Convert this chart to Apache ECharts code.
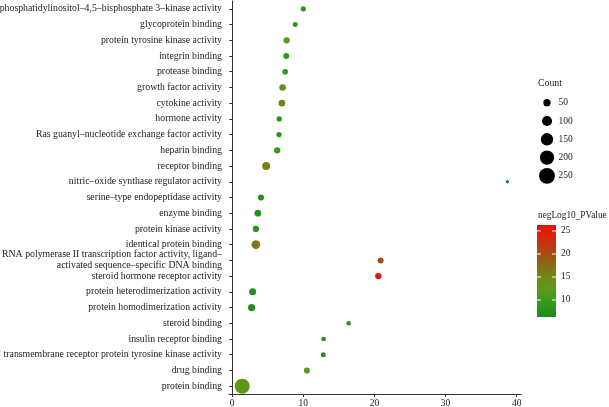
<!DOCTYPE html>
<html>
<head>
<meta charset="utf-8">
<script src="https://cdn.jsdelivr.net/npm/echarts@6/dist/echarts.min.js"></script>
<style>html,body{margin:0;padding:0;background:#fff;}#c{width:609px;height:407px;}</style>
</head>
<body>
<div id="c"></div>
<script>
const categories = [
  'phosphatidylinositol–4,5–bisphosphate 3–kinase activity',
  'glycoprotein binding',
  'protein tyrosine kinase activity',
  'integrin binding',
  'protease binding',
  'growth factor activity',
  'cytokine activity',
  'hormone activity',
  'Ras guanyl–nucleotide exchange factor activity',
  'heparin binding',
  'receptor binding',
  'nitric–oxide synthase regulator activity',
  'serine–type endopeptidase activity',
  'enzyme binding',
  'protein kinase activity',
  'identical protein binding',
  'RNA polymerase II transcription factor activity, ligand–\nactivated sequence–specific DNA binding',
  'steroid hormone receptor activity',
  'protein heterodimerization activity',
  'protein homodimerization activity',
  'steroid binding',
  'insulin receptor binding',
  'transmembrane receptor protein tyrosine kinase activity',
  'drug binding',
  'protein binding'
];
const xValues = [10.0, 8.86, 7.65, 7.6, 7.45, 7.09, 6.99, 6.61, 6.57, 6.33, 4.78, 38.68, 4.04, 3.61, 3.33, 3.33, 20.87, 20.54, 2.87, 2.73, 16.37, 12.85, 12.8, 10.5, 1.41];
const counts = [25, 22, 37, 33, 29, 41, 41, 25, 25, 37, 61, 8, 33, 42, 37, 72, 33, 37, 46, 50, 19, 19, 22, 33, 222];
const negLog10P = [8.5, 8, 12.5, 8.5, 9, 14, 16, 8, 8, 10, 16, 6.3, 7.5, 7.5, 8, 16.5, 20, 26.3, 7.5, 7.5, 8, 7.5, 7.5, 12, 12.5];
const xTicks = [0, 10, 20, 30, 40];
const sizeBreaks = [50, 100, 150, 200, 250];
const colorBreaks = [10, 15, 20, 25];

const FONT = 'Liberation Serif';
const TXT = '#222';

const rampStops = [[0,'#1e8a1e'],[0.185,'#3c9a1c'],[0.31,'#5c9a18'],[0.435,'#728a14'],[0.56,'#866c16'],[0.685,'#a24e14'],[0.81,'#c83210'],[0.935,'#e21c0c'],[1,'#e8120a']];
function hex(h){return [parseInt(h.slice(1,3),16),parseInt(h.slice(3,5),16),parseInt(h.slice(5,7),16)];}
function rampAt(t){
  for(let i=1;i<rampStops.length;i++){
    if(t<=rampStops[i][0]){
      const a=rampStops[i-1],b=rampStops[i];const u=(t-a[0])/(b[0]-a[0]);
      const ca=hex(a[1]),cb=hex(b[1]);
      return 'rgb('+ca.map((v,k)=>Math.round(v+(cb[k]-v)*u)).join(',')+')';
    }
  }
  return rampStops[rampStops.length-1][1];
}
const rampColors=[];
for(let i=0;i<=40;i++){rampColors.push(rampAt(i/40));}

const cMin=Math.min(...negLog10P), cMax=Math.max(...negLog10P);
const sizeOf = c => Math.sqrt(c + 3);

const chart = echarts.init(document.getElementById('c'), null, {renderer:'canvas'});

const lgX = 538;
const graphics = [];
graphics.push({type:'text', x: lgX, y: 83, style:{text:'Count', font:'9.8px '+FONT, fill:TXT, verticalAlign:'middle'}});
sizeBreaks.forEach((b,k)=>{
  const cy = 102.7 + k*18.3;
  graphics.push({type:'circle', shape:{cx:547, cy:cy, r:sizeOf(b)/2}, style:{fill:'#000'}});
  graphics.push({type:'text', x:558.5, y:cy, style:{text:String(b), font:'9.5px '+FONT, fill:TXT, verticalAlign:'middle', align:'left'}});
});
graphics.push({type:'text', x: lgX, y: 216, style:{text:'negLog10_PValue', font:'9.3px '+FONT, fill:TXT, verticalAlign:'middle'}});
const barTop=225, barH=92, barX=537, barW=19;
graphics.push({type:'rect', shape:{x:barX, y:barTop, width:barW, height:barH},
  style:{fill: new echarts.graphic.LinearGradient(0,1,0,0, rampColors.map((c,i)=>({offset:i/(rampColors.length-1), color:c})))}});
colorBreaks.forEach(b=>{
  const y = barTop + barH - (b-cMin)/(cMax-cMin)*barH;
  graphics.push({type:'line', shape:{x1:barX, y1:y, x2:barX+4, y2:y}, style:{stroke:'#fff', lineWidth:1}});
  graphics.push({type:'line', shape:{x1:barX+barW-4, y1:y, x2:barX+barW, y2:y}, style:{stroke:'#fff', lineWidth:1}});
  graphics.push({type:'text', x:561, y:y, style:{text:String(b), font:'9.5px '+FONT, fill:TXT, verticalAlign:'middle', align:'left'}});
});

chart.setOption({
  animation:false,
  backgroundColor:'#fff',
  grid:{left:229, right:88, top:1, bottom:13, containLabel:false, outerBoundsMode:'none'},
  xAxis:{type:'value', min:-0.45, max:40.6,
    axisLine:{show:true, lineStyle:{color:'#333', width:1}},
    axisTick:{show:true, customValues:xTicks, length:3, lineStyle:{color:'#333'}},
    axisLabel:{customValues:xTicks, fontFamily:FONT, fontSize:9.5, color:TXT, margin:4},
    splitLine:{show:false}},
  yAxis:{type:'category', data:categories, inverse:true,
    axisLine:{show:true, lineStyle:{color:'#333', width:1}},
    axisTick:{show:true, alignWithLabel:true, length:3, lineStyle:{color:'#333'}},
    axisLabel:{fontFamily:FONT, fontSize:9.8, color:TXT, margin:7, lineHeight:11, interval:0},
    splitLine:{show:false}},
  visualMap:{show:false, type:'continuous', dimension:3, min:cMin, max:cMax, seriesIndex:0, inRange:{color:rampColors}},
  series:[{type:'scatter',
    data: categories.map((c,i)=>[xValues[i], c, counts[i], negLog10P[i]]),
    encode:{x:0, y:1},
    symbolSize: v => sizeOf(v[2]),
    itemStyle:{opacity:1}}],
  graphic: graphics
});
</script>
</body>
</html>
